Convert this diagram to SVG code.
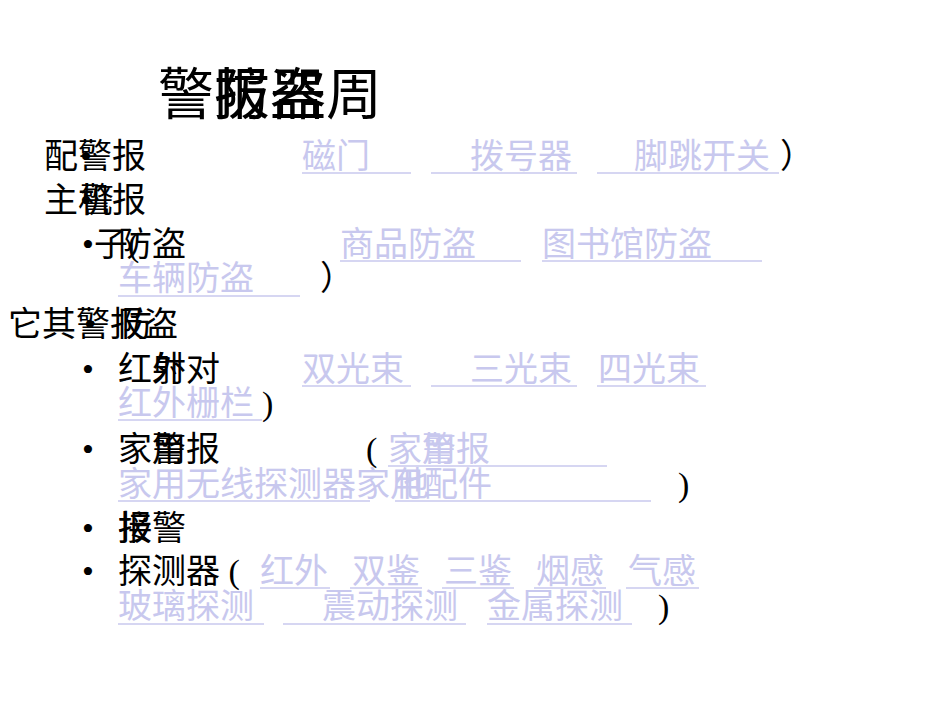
<svg xmlns="http://www.w3.org/2000/svg" width="950" height="713" viewBox="0 0 950 713">
<style>
text{font-family:"Liberation Serif","Noto Sans CJK SC",serif;font-size:34px;fill:#000}
.l{fill:#c8c8ee}
.u{stroke:#c8c8ee;stroke-width:1.5}
.t{font-size:56px}
</style>
<rect width="950" height="713" fill="#fff"/>
<g id="title"><text class="t" x="158" y="114">警报器周</text><text class="t" x="214" y="114">防盗</text></g>
<g id="body">
<text x="44" y="168">配警报</text><text x="80" y="168">•</text>
<text class="l" x="302" y="168">磁门</text><text class="l" x="470" y="168">拨号器</text><text class="l" x="634" y="168">脚跳开关</text><text x="780" y="168">）</text>
<line class="u" x1="302" y1="173" x2="411" y2="173"/><line class="u" x1="431" y1="173" x2="577" y2="173"/><line class="u" x1="597" y1="173" x2="779" y2="173"/>
<text x="44" y="212">主机报</text><text x="80" y="212">•</text><text x="80" y="212">警</text>
<text x="82" y="256">•子(</text><text x="118" y="256">防盗</text>
<text class="l" x="340" y="256">商品防盗</text><text class="l" x="542" y="256">图书馆防盗</text>
<line class="u" x1="340" y1="261" x2="521" y2="261"/><line class="u" x1="542" y1="261" x2="762" y2="261"/>
<text class="l" x="118" y="290">车辆防盗</text><text x="320" y="290">）</text>
<line class="u" x1="118" y1="296" x2="300" y2="296"/>
<text x="8" y="336">它其警报盗</text><text x="84" y="336">•</text><text x="118" y="336">防</text>
<text x="82" y="381">•</text><text x="118" y="381">红射对</text><text x="152" y="381">外</text>
<text class="l" x="302" y="381">双光束</text><text class="l" x="470" y="381">三光束</text><text class="l" x="598" y="381">四光束</text>
<line class="u" x1="302" y1="386" x2="411" y2="386"/><line class="u" x1="431" y1="386" x2="577" y2="386"/><line class="u" x1="597" y1="386" x2="706" y2="386"/>
<text class="l" x="118" y="415">红外栅栏</text><text x="262" y="415">)</text>
<line class="u" x1="118" y1="420" x2="262" y2="420"/>
<text x="82" y="461">•</text><text x="118" y="461">家用报</text><text x="152" y="461">警</text>
<text x="366" y="461">(</text><text class="l" x="388" y="461">家用报</text><text class="l" x="422" y="461">警</text>
<line class="u" x1="388" y1="466" x2="607" y2="466"/>
<text class="l" x="118" y="496">家用无线探测器家用配件</text><text class="l" x="395" y="496">他</text><text x="678" y="496">)</text>
<line class="u" x1="118" y1="501" x2="370" y2="501"/><line class="u" x1="395" y1="501" x2="651" y2="501"/>
<text x="82" y="540">•</text><text x="118" y="540">报警</text><text x="118" y="540">接</text>
<text x="82" y="583">•</text><text x="118" y="583">探测器 (</text>
<text class="l" x="260" y="583">红外</text><text class="l" x="352" y="583">双鉴</text><text class="l" x="444" y="583">三鉴</text><text class="l" x="536" y="583">烟感</text><text class="l" x="628" y="583">气感</text>
<line class="u" x1="260" y1="588" x2="330" y2="588"/><line class="u" x1="350" y1="588" x2="422" y2="588"/><line class="u" x1="442" y1="588" x2="514" y2="588"/><line class="u" x1="534" y1="588" x2="606" y2="588"/><line class="u" x1="626" y1="588" x2="699" y2="588"/>
<text class="l" x="118" y="618">玻璃探测</text><text class="l" x="322" y="618">震动探测</text><text class="l" x="487" y="618">金属探测</text><text x="658" y="618">)</text>
<line class="u" x1="118" y1="624" x2="264" y2="624"/><line class="u" x1="283" y1="624" x2="466" y2="624"/><line class="u" x1="487" y1="624" x2="632" y2="624"/>
</g>
</svg>
